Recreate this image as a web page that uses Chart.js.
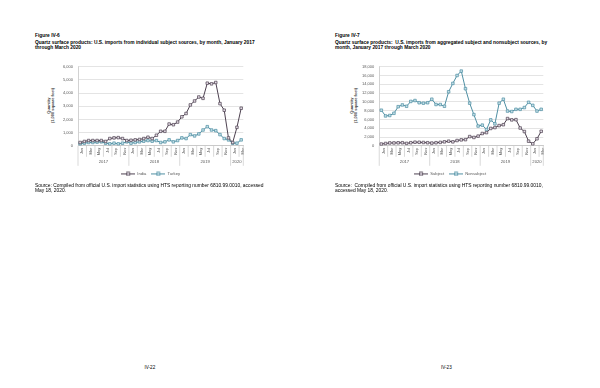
<!DOCTYPE html>
<html>
<head>
<meta charset="utf-8">
<script src="https://cdn.jsdelivr.net/npm/chart.js@4.4.0/dist/chart.umd.min.js"></script>
<style>
  html, body { margin: 0; padding: 0; background: #fff; }
  body { width: 600px; height: 388px; position: relative; overflow: hidden; font-family: "Liberation Sans", Arial, sans-serif; color: #000; }
  .t { position: absolute; white-space: nowrap; }
  .head { font-weight: bold; font-size: 4.85px; line-height: 4.8px; }
  .src { font-size: 4.9px; line-height: 5px; }
  .page { font-size: 4.6px; }
  .ytitle { position: absolute; width: 60px; height: 9px; transform: rotate(-90deg); text-align: center; font-weight: bold; font-size: 4px; line-height: 4.3px; color: #404040; }
  .box { position: absolute; }
</style>
</head>
<body>

<div class="t head" style="left:35px; top:34.2px;">Figure IV-6</div>
<div class="t head" style="left:35px; top:41.4px;">Quartz surface products: U.S. imports from individual subject sources, by month, January 2017<br>through March 2020</div>
<div class="t head" style="left:335px; top:34.2px;">Figure IV-7</div>
<div class="t head" style="left:335px; top:41.4px;">Quartz surface products:&nbsp; U.S. imports from aggregated subject and nonsubject sources, by<br>month, January 2017 through March 2020</div>

<div class="ytitle" style="left:21px; top:100.5px;">Quantity<br>(1,000 square feet)</div>
<div class="ytitle" style="left:323.5px; top:100.5px;">Quantity<br>(1,000 square feet)</div>

<div class="box" style="left:58px; top:58px; width:192px; height:128px;"><canvas id="chartLeft"></canvas></div>
<div class="box" style="left:357px; top:58px; width:193px; height:128px;"><canvas id="chartRight"></canvas></div>

<div class="t src" style="left:35px; top:183px;">Source: Compiled from official U.S. import statistics using HTS reporting number 6810.99.0010, accessed<br>May 18, 2020.</div>
<div class="t src" style="left:335px; top:183px;">Source:&nbsp; Compiled from official U.S. import statistics using HTS reporting number 6810.99.0010,<br>accessed May 18, 2020.</div>

<div class="t page" style="left:144.5px; top:364.5px;">IV-22</div>
<div class="t page" style="left:441px; top:364.5px;">IV-23</div>

<script>
const monthLabels = [
  'Jan','Feb','Mar','Apr','May','Jun','Jul','Aug','Sep','Oct','Nov','Dec',
  'Jan','Feb','Mar','Apr','May','Jun','Jul','Aug','Sep','Oct','Nov','Dec',
  'Jan','Feb','Mar','Apr','May','Jun','Jul','Aug','Sep','Oct','Nov','Dec',
  'Jan','Feb','Mar'
];
const years = ['2017', '2018', '2019', '2020'];
const yearMonths = [12, 12, 12, 3];

// Figure IV-6, 1,000 square feet
const india = [250,330,400,400,400,400,330,550,600,620,550,400,
               420,450,480,550,650,550,800,1100,1100,1650,1600,1800,
               2200,2450,3100,3400,3700,3600,4750,4700,4800,3200,2700,600,
               250,1400,2850];
const turkey = [150,200,250,250,280,300,200,150,200,150,200,300,
                200,250,300,350,400,350,400,250,300,450,300,400,
                600,550,850,750,900,1200,1450,1200,1150,850,550,450,
                200,200,450];

// Figure IV-7
const subject = [400,530,650,650,680,700,550,700,820,800,750,700,
                 620,700,780,900,1050,900,1200,1350,1400,2100,1900,2200,
                 2800,3000,3950,4150,4600,4800,6200,5900,5950,4050,3250,1050,
                 450,1600,3300];
const nonsubject = [8100,6800,6900,7400,8900,9300,9000,10100,10300,9800,9700,9800,
                    10600,9400,9400,9000,12300,14200,16000,17000,13000,9700,7100,4500,
                    4700,3700,5900,5000,9700,10600,7900,7800,8300,8300,8700,9900,
                    9200,7900,8300];

const leftTicks = { max: 6000, step: 1000 };
const rightTicks = { max: 18000, step: 2000 };

const darkColor = '#4d4150';
const darkFill = '#e4dde6';
const tealColor = '#4f8fa3';
const tealFill = '#c6e0e8';
const fontFamily = '"Liberation Sans", Arial, sans-serif';
const axisGray = '#bfbfbf';
const textGray = '#595959';

function legendMarker(color, fill) {
  const c = document.createElement('canvas');
  c.width = 14; c.height = 5;
  const g = c.getContext('2d');
  g.strokeStyle = color; g.lineWidth = 1;
  g.beginPath(); g.moveTo(0, 2.5); g.lineTo(14, 2.5); g.stroke();
  g.fillStyle = fill; g.lineWidth = 0.8;
  g.fillRect(5.5, 1, 3, 3); g.strokeRect(5.5, 1, 3, 3);
  return c;
}

// year groups under the month labels
const yearAxisPlugin = {
  id: 'yearAxis',
  afterDraw(chart) {
    const x = chart.scales.x;
    const ctx = chart.ctx;
    const bottom = chart.chartArea.bottom;
    const half = (x.getPixelForValue(1) - x.getPixelForValue(0)) / 2;
    ctx.save();
    ctx.strokeStyle = axisGray;
    ctx.lineWidth = 0.6;
    ctx.fillStyle = textGray;
    ctx.font = '4.2px ' + fontFamily;
    ctx.textAlign = 'center';
    ctx.textBaseline = 'middle';
    let start = 0;
    years.forEach((yr, k) => {
      const n = yearMonths[k];
      const x0 = x.getPixelForValue(start) - half;
      const x1 = x.getPixelForValue(start + n - 1) + half;
      ctx.beginPath();
      ctx.moveTo(x0, bottom); ctx.lineTo(x0, bottom + 20);
      for (let m = 2; m < n; m += 2) {
        const xm = x.getPixelForValue(start + m) - half;
        ctx.moveTo(xm, bottom); ctx.lineTo(xm, bottom + 11);
      }
      if (k === years.length - 1) { ctx.moveTo(x1, bottom); ctx.lineTo(x1, bottom + 20); }
      ctx.stroke();
      ctx.fillText(yr, (x0 + x1) / 2, bottom + 16);
      start += n;
    });
    ctx.restore();
  }
};

function makeChart(id, names, series, colors, fills, ticks) {
  const datasets = series.map((data, i) => ({
    label: names[i],
    data: data,
    borderColor: colors[i],
    backgroundColor: fills[i],
    borderWidth: 1,
    pointStyle: 'rect',
    pointRadius: 1.8,
    pointBorderWidth: 0.7,
    pointBackgroundColor: fills[i],
    pointBorderColor: colors[i],
    tension: 0,
    fill: false
  }));
  const markers = series.map((d, i) => legendMarker(colors[i], fills[i]));
  return new Chart(document.getElementById(id), {
    type: 'line',
    data: { labels: monthLabels, datasets: datasets },
    plugins: [yearAxisPlugin],
    options: {
      responsive: true,
      maintainAspectRatio: false,
      animation: false,
      layout: { padding: { top: 8.7, right: 6.7, bottom: 0, left: 0 } },
      scales: {
        x: {
          offset: true,
          grid: { display: true, offset: true, drawOnChartArea: false, drawTicks: false },
          border: { color: axisGray, width: 0.7 },
          ticks: {
            autoSkip: false, minRotation: 90, maxRotation: 90,
            padding: 2, labelOffset: 2.1,
            font: { size: 3.9, family: fontFamily }, color: textGray,
            callback: (v, i) => i % 2 === 0 ? monthLabels[i] : ''
          },
          afterFit: s => { s.height = 21; }
        },
        y: {
          min: 0, max: ticks.max,
          grid: { color: '#d9d9d9', lineWidth: 0.7, drawTicks: false },
          border: { display: true, color: axisGray, width: 0.7 },
          ticks: {
            stepSize: ticks.step, padding: 5, autoSkip: false,
            font: { size: 4, family: fontFamily }, color: textGray,
            callback: v => v.toLocaleString('en-US')
          }
        }
      },
      plugins: {
        legend: {
          position: 'bottom',
          labels: {
            usePointStyle: true,
            pointStyleWidth: 14,
            padding: 5,
            font: { size: 4.2, family: fontFamily },
            color: textGray,
            generateLabels: chart => {
              const items = Chart.defaults.plugins.legend.labels.generateLabels(chart);
              items.forEach((it, i) => { it.pointStyle = markers[i]; });
              return items;
            }
          }
        },
        tooltip: { enabled: false }
      }
    }
  });
}

makeChart('chartLeft', ['India', 'Turkey'], [india, turkey], [darkColor, tealColor], [darkFill, tealFill], leftTicks);
makeChart('chartRight', ['Subject', 'Nonsubject'], [subject, nonsubject], [darkColor, tealColor], [darkFill, tealFill], rightTicks);
</script>
</body>
</html>
